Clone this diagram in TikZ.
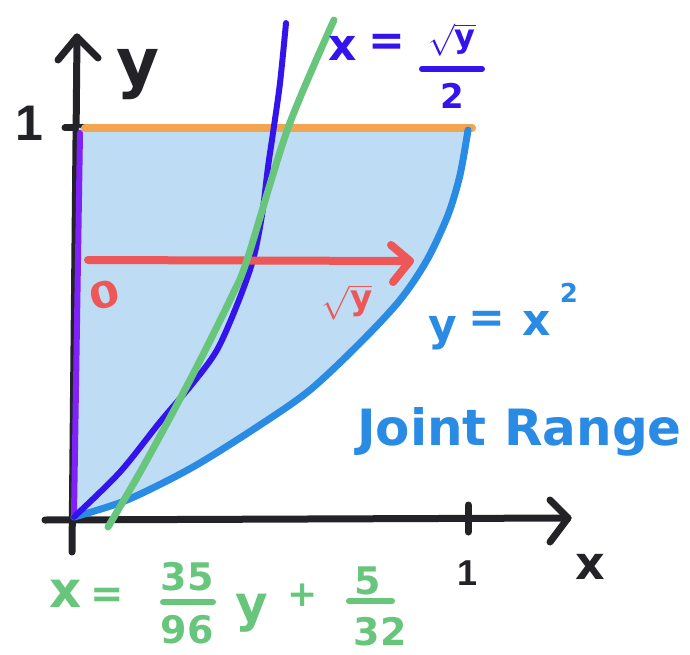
\documentclass[tikz,border=0pt]{standalone}
\usepackage{fontspec}
\usepackage{unicode-math}
\setmainfont{DejaVu Sans}
\newfontfamily\onefont{Liberation Sans}
\definecolor{axisblack}{HTML}{232327}
\definecolor{fillblue}{HTML}{BEDCF4}
\definecolor{curveblue}{HTML}{2A8BE4}
\definecolor{darkblue}{HTML}{3414EC}
\definecolor{lgreen}{HTML}{67C67B}
\definecolor{lred}{HTML}{EE5757}
\definecolor{lorange}{HTML}{F2A451}
\definecolor{lpurple}{HTML}{8021FA}
\begin{document}
\begin{tikzpicture}[x=1pt,y=-1pt,line cap=round,line join=round,
  axis/.style={draw=axisblack,line width=7pt},
  fs/.style={font=\bfseries\fontsize{#1}{#1}\selectfont,inner sep=0pt},
  barline/.style={line width=6pt}]
\useasboundingbox (0,0) rectangle (690,655);
% axes
\coordinate (ybot) at (72,552);
\coordinate (ytop) at (77,37);
\coordinate (yarrL) at (58,60);
\coordinate (yarrR) at (98,58);
\coordinate (xleft) at (45,520);
\coordinate (xright) at (568,518);
\coordinate (xarrU) at (550,500);
\coordinate (xarrD) at (550,542);
\coordinate (xtickT) at (468,505);
\coordinate (xtickB) at (468,532);
\coordinate (ytickL) at (65,128);
\coordinate (ytickR) at (88,128);
\draw[axis] (ybot) -- (ytop);
\draw[axis] (yarrL) -- (ytop) -- (yarrR);
\draw[axis] (xleft) -- (xright);
\draw[axis] (xarrU) -- (xright) -- (xarrD);
\draw[axis] (xtickT) -- (xtickB);
\draw[axis] (ytickL) -- (ytickR);
% region
\fill[fillblue] (79,128) -- (468,128) -- plot[smooth] coordinates {(468,130) (460,175) (448,215) (427,260) (400,300) (360,343) (310,390) (260,425) (193,467) (127,500) (74,517)} -- cycle;
% top edge
\coordinate (oL) at (85,128);
\coordinate (oR) at (472,128);
\draw[lorange,line width=8pt] (oL) -- (oR);
% left edge
\coordinate (pT) at (80,133);
\coordinate (pB) at (74,514);
\draw[lpurple,line width=6pt] (pT) -- (pB);
% y = x^2
\draw[curveblue,line width=7pt] plot[smooth] coordinates {(468,130) (460,175) (448,215) (427,260) (400,300) (360,343) (310,390) (260,425) (193,467) (127,500) (74,517)};
% x = sqrt(y)/2
\draw[darkblue,line width=6pt] plot[smooth] coordinates {(74,517) (120,472) (160,422) (193,383) (217,350) (237,305) (253,260) (262,215) (268,167) (273,133) (280,83) (286,23)};
% red arrow
\coordinate (rL) at (88,260);
\coordinate (rR) at (410,261);
\coordinate (rU) at (391,245);
\coordinate (rD) at (393,282);
\draw[lred,line width=8pt] (rL) -- (rR);
\draw[lred,line width=8pt] (rU) -- (rR) -- (rD);
% green line
\draw[lgreen,line width=7pt] plot[smooth] coordinates {(108,527) (143,467) (190,380) (230,300) (247,260) (288,128) (334,20)};
% axis labels
\node[fs=66,text=axisblack] (ylab) at (138,75) {y};
\node[text=axisblack,inner sep=0pt,font=\onefont\bfseries\fontsize{50}{50}\selectfont] (yone) at (29,123) {1};
\node[text=axisblack,inner sep=0pt,font=\onefont\bfseries\fontsize{36}{36}\selectfont] (xone) at (468,573) {1};
\node[fs=46,text=axisblack] (xlab) at (590,567) {x};
% red labels
\node[fs=36,text=lred,rotate=15,xscale=1.2] (zero) at (105,295) {0};
\node[fs=34,text=lred] (rsq) at (347,302) {$\sqrt{\mbox{y}}$};
% x = sqrt(y)/2
\node[fs=44,text=darkblue] (bx) at (343,48) {x};
\node[fs=44,text=darkblue] (beq) at (387,45) {=};
\node[fs=32,text=darkblue] (bnum) at (452,40) {$\sqrt{\mbox{y}}$};
\coordinate (bbarL) at (422,69);
\coordinate (bbarR) at (482,69);
\draw[darkblue,barline] (bbarL) -- (bbarR);
\node[fs=34,text=darkblue] (bden) at (452,96) {2};
% y = x^2
\node[fs=44,text=curveblue] (cy) at (443,333) {y};
\node[fs=44,text=curveblue] (ceq) at (487,322) {=};
\node[fs=44,text=curveblue] (cx) at (537,323) {x};
\node[fs=26,text=curveblue] (c2) at (569,293) {2};
\node[text=curveblue,inner sep=0pt,anchor=base west,font=\bfseries\fontsize{50}{50}\selectfont] (jr) at (357,445) {Joint Range};
% green equation
\node[fs=50,text=lgreen] (gx) at (66,594) {x};
\node[fs=40,text=lgreen] (geq) at (107,598) {=};
\node[fs=38,text=lgreen] (gn1) at (187,577) {35};
\coordinate (gb1L) at (163,602);
\coordinate (gb1R) at (213,602);
\draw[lgreen,barline] (gb1L) -- (gb1R);
\node[fs=38,text=lgreen] (gd1) at (187,630) {96};
\node[fs=50,text=lgreen] (gy) at (252,613) {y};
\node[fs=36,text=lgreen] (gplus) at (303,595) {+};
\node[fs=38,text=lgreen] (gn2) at (368,581) {5};
\coordinate (gb2L) at (349,601);
\coordinate (gb2R) at (392,601);
\draw[lgreen,barline] (gb2L) -- (gb2R);
\node[fs=38,text=lgreen] (gd2) at (380,632) {32};
\end{tikzpicture}
\end{document}
